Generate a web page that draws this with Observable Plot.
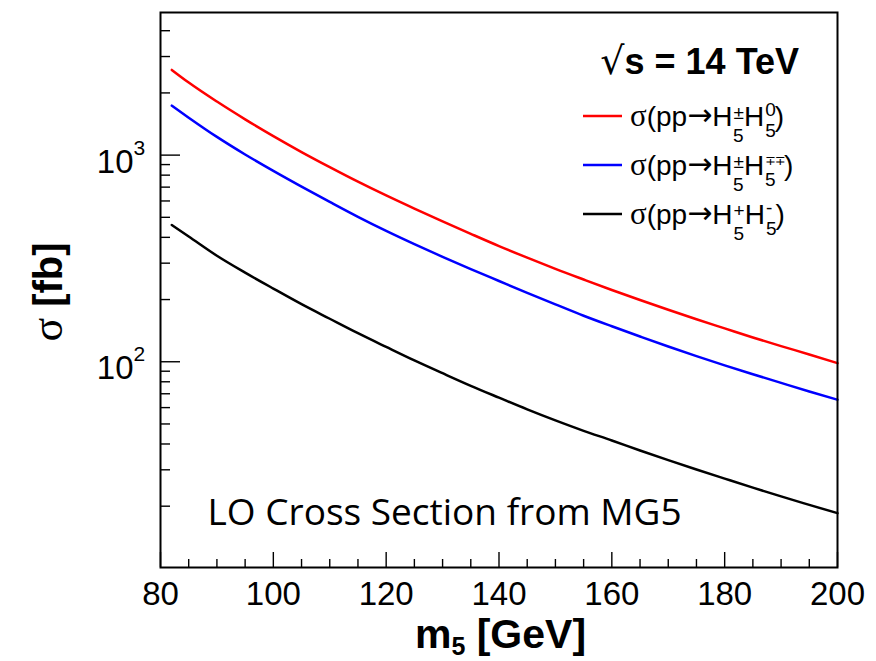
<!DOCTYPE html>
<html>
<head>
<meta charset="utf-8">
<script src="https://cdn.jsdelivr.net/npm/d3@7"></script>
<script src="https://cdn.jsdelivr.net/npm/@observablehq/plot@0.6"></script>
<style>
  html, body { margin: 0; padding: 0; background: #fff; }
  #chart svg { display: block; }
</style>
</head>
<body>
<div id="chart"></div>
<script>
// ---------- data ----------
const masses = [82, 85, 90, 95, 100, 105, 110, 115, 120, 125, 130, 135, 140, 145, 150, 155, 160, 165, 170, 175, 180, 185, 190, 195, 200];
const sigmaH5pmH50 = [2585, 2245, 1816, 1490, 1236, 1035, 875, 744, 638, 551, 478, 416, 363, 319, 281.5, 250, 222.5, 199, 178.5, 160.5, 145, 131, 119, 108.5, 98.5];
const sigmaH5pmH5mpmp = [1735, 1518, 1225, 1007, 839, 704, 594, 503, 430, 371, 322, 281, 246, 215.5, 189.5, 167, 148.5, 132.5, 118.5, 106.5, 96, 87, 79, 71.8, 65.5];
const sigmaH5pH5m = [459, 404, 326, 270, 226, 190, 161.5, 137.5, 118, 101.5, 88, 76.5, 67, 58.8, 52, 46.3, 41.6, 37.2, 33.4, 30.1, 27.2, 24.6, 22.3, 20.3, 18.5];

const seriesNames = ["H5±H50", "H5±H5∓∓", "H5+H5-"];
const seriesColors = ["#ff0000", "#0000ff", "#000000"];
const legendScripts = [
  [["±", "5"], ["0", "5"]],
  [["±", "5"], ["∓∓", "5"]],
  [["+", "5"], ["-", "5"]]
];

const xMajorTicks = [80, 100, 120, 140, 160, 180, 200];
const xMinorTicks = [85, 90, 95, 105, 110, 115, 125, 130, 135, 145, 150, 155, 165, 170, 175, 185, 190, 195];
const yMajorTicks = [100, 1000];
const yMajorExponents = ["2", "3"];
const yMinorTicks = [20, 30, 40, 50, 60, 70, 80, 90, 200, 300, 400, 500, 600, 700, 800, 900, 2000, 3000, 4000];

const xDomain = [80, 200];
const yDomain = [10.1, 4900];

const energyLabel = "s = 14 TeV";
const noteLabel = "LO Cross Section from MG5";

// ---------- table ----------
const seriesValues = [sigmaH5pmH50, sigmaH5pmH5mpmp, sigmaH5pH5m];
const rows = [];
seriesNames.forEach((name, i) => {
  masses.forEach((m, j) => rows.push({series: name, m, sigma: seriesValues[i][j]}));
});

// ---------- layout ----------
const W = 876, H = 661;
const mL = 160, mR = 39, mT = 12, mB = 94;
const plotW = W - mL - mR, plotH = H - mT - mB;
const FONT = "'Liberation Sans', Arial, Helvetica, sans-serif";
const SERIF = "'Liberation Serif', 'DejaVu Serif', serif";

const plot = Plot.plot({
  width: W,
  height: H,
  marginLeft: mL,
  marginRight: mR,
  marginTop: mT,
  marginBottom: mB,
  style: {fontFamily: FONT, background: "#fff", color: "#000", overflow: "visible"},
  x: {domain: xDomain, axis: null},
  y: {type: "log", domain: yDomain, axis: null},
  color: {domain: seriesNames, range: seriesColors},
  marks: [
    // inward ticks
    Plot.tickY(yMinorTicks, {y: d => d, stroke: "#000", strokeWidth: 1.4, insetRight: plotW - 10}),
    Plot.tickY(yMajorTicks, {y: d => d, stroke: "#000", strokeWidth: 1.4, insetRight: plotW - 20}),
    Plot.tickX(xMinorTicks, {x: d => d, stroke: "#000", strokeWidth: 1.4, insetTop: plotH - 8}),
    Plot.tickX(xMajorTicks, {x: d => d, stroke: "#000", strokeWidth: 1.4, insetTop: plotH - 15}),
    // curves
    Plot.line(rows, {x: "m", y: "sigma", z: "series", stroke: "series", strokeWidth: 2.5, curve: "monotone-x"}),
    Plot.frame({stroke: "#000", strokeWidth: 2}),
    // x tick labels
    Plot.text(xMajorTicks, {x: d => d, frameAnchor: "bottom", text: d => String(d), dy: 37, fontSize: 33, fill: "#000"}),
    // y tick labels: 10 with exponent
    Plot.text(yMajorTicks, {y: d => d, frameAnchor: "left", text: () => "10", textAnchor: "end", dx: -27, dy: 7, fontSize: 33, fill: "#000"}),
    Plot.text(yMajorTicks, {y: d => d, frameAnchor: "left", text: (d, i) => yMajorExponents[i], textAnchor: "start", dx: -27, dy: -7, fontSize: 21, fill: "#000"}),
    // note text
    Plot.text([noteLabel], {frameAnchor: "bottom-left", text: d => d, textAnchor: "start", lineAnchor: "bottom", dx: 47, dy: -43, fontSize: 37, fontFamily: "'Open Sans', 'Noto Sans', sans-serif", fill: "#000"})
  ]
});

document.getElementById("chart").append(plot);

// ---------- rich-text annotations (titles and legend) ----------
const svg = d3.select(plot);
const ann = svg.append("g").attr("fill", "#000").attr("font-family", FONT).attr("text-anchor", "start");

// Energy label  √s = 14 TeV
{
  const t = ann.append("text")
    .attr("x", mL + plotW - 38).attr("y", mT + 62)
    .attr("text-anchor", "end").attr("font-size", 36).attr("font-weight", "bold");
  t.append("tspan").attr("font-family", "'DejaVu Sans', sans-serif").attr("font-weight", "normal")
    .attr("font-size", 38).text("√");
  t.append("tspan").text(energyLabel);
}

// Legend
const scriptWidth = {"±": 11.1, "0": 10.6, "5": 10.6, "+": 11.1, "-": 6.3, "∓∓": 20};
{
  const lineX1 = mL + plotW - 254, lineX2 = mL + plotW - 215;
  const textX = mL + plotW - 207;
  const firstY = mT + 104, step = 49;
  seriesNames.forEach((name, i) => {
    const ly = firstY + i * step;
    ann.append("line").attr("x1", lineX1).attr("x2", lineX2).attr("y1", ly).attr("y2", ly)
      .attr("stroke", seriesColors[i]).attr("stroke-width", 2.5);
    const base = ly + 10;
    const t = ann.append("text").attr("x", textX).attr("y", base).attr("font-size", 28).attr("text-anchor", "start");
    t.append("tspan").attr("font-family", SERIF).attr("font-size", 31).text("σ");
    t.append("tspan").text("(pp");
    t.append("tspan").attr("font-family", "'DejaVu Sans', sans-serif").attr("font-size", 30).attr("dy", -1).text("→");
    t.append("tspan").attr("dy", 1).text("H");
    const [s1, s2] = legendScripts[i];
    // first H scripts
    const wSup1 = scriptWidth[s1[0]] || 11, wSub1 = scriptWidth[s1[1]] || 11;
    t.append("tspan").attr("font-size", 19).attr("dy", -7).attr("dx", 1).text(s1[0]);
    t.append("tspan").attr("font-size", 19).attr("dy", 23).attr("dx", -wSup1).text(s1[1]);
    t.append("tspan").attr("dy", -16).attr("dx", Math.max(0, wSup1 - wSub1)).text("H");
    // second H scripts
    const wSup2 = scriptWidth[s2[0]] || 11, wSub2 = scriptWidth[s2[1]] || 11;
    const sup2 = t.append("tspan").attr("font-size", 19).attr("dy", -10).attr("dx", 1).text(s2[0]);
    if (s2[0] === "∓∓") sup2.attr("font-family", "'DejaVu Sans', sans-serif").attr("font-size", 13).attr("letter-spacing", -1);
    t.append("tspan").attr("font-size", 19).attr("dy", 21).attr("dx", -wSup2).text(s2[1]);
    t.append("tspan").attr("dy", -11).attr("dx", Math.max(0, wSup2 - wSub2) - 1).text(")");
  });
}

// y axis title  σ [fb]
{
  const t = ann.append("text")
    .attr("transform", `translate(${mL - 98},${mT + 280}) rotate(-90)`)
    .attr("text-anchor", "middle");
  t.append("tspan").attr("font-family", SERIF).attr("font-size", 44).text("σ");
  t.append("tspan").attr("font-size", 40).attr("font-weight", "bold").text(" [fb]");
}

// x axis title  m5 [GeV]
{
  const t = ann.append("text")
    .attr("x", mL + plotW / 2 + 2).attr("y", mT + plotH + 81)
    .attr("text-anchor", "middle").attr("font-weight", "bold").attr("font-size", 41);
  t.append("tspan").text("m");
  t.append("tspan").attr("font-size", 25).attr("dy", 7).text("5");
  t.append("tspan").attr("dy", -7).text(" [GeV]");
}
</script>
</body>
</html>
